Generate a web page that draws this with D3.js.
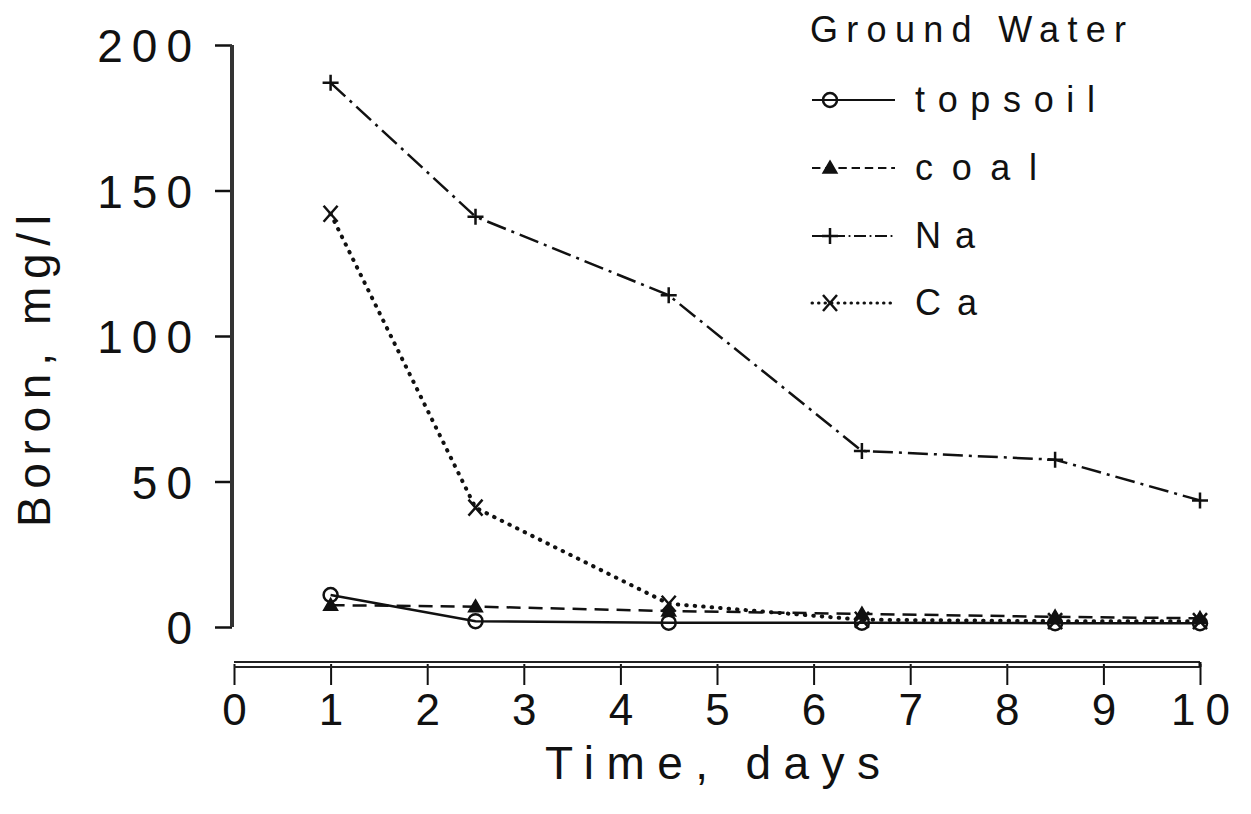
<!DOCTYPE html>
<html lang="en">
<head>
<meta charset="utf-8">
<title>Boron in ground water</title>
<script src="https://cdn.jsdelivr.net/npm/d3@7"></script>
<style>
  body { margin: 0; background: #fff; }
  text { font-family: "Liberation Sans", "DejaVu Sans", sans-serif; fill: #111; }
</style>
</head>
<body>
<div id="chart"></div>
<script>
  // data
  var days = [1, 2.5, 4.5, 6.5, 8.5, 10];
  var topsoil = [11, 2, 1.5, 1.5, 1.3, 1.3];
  var coal = [7.5, 7, 5.5, 4.5, 3.5, 3];
  var na = [187, 141, 114, 60.5, 57.5, 43.5];
  var ca = [142, 41, 8, 2.5, 2, 2];
  var xTicks = [0, 1, 2, 3, 4, 5, 6, 7, 8, 9, 10];
  var yTicks = [0, 50, 100, 150, 200];

  var series = [
    { name: "topsoil", values: topsoil, dash: null, marker: "circle" },
    { name: "coal", values: coal, dash: "14,8", marker: "triangle" },
    { name: "Na", values: na, dash: "20,6,3,6", marker: "plus" },
    { name: "Ca", values: ca, dash: "0.5,8", marker: "cross" }
  ];

  var width = 1251, height = 814;

  var x = d3.scaleLinear().domain([0, 10]).range([234, 1200]);
  var y = d3.scaleLinear().domain([0, 200]).range([627, 45]);

  var svg = d3.select("#chart").append("svg")
    .attr("width", width)
    .attr("height", height);

  // y axis
  var yAxis = svg.append("g")
    .attr("transform", "translate(232,0)")
    .call(d3.axisLeft(y).tickValues(yTicks).tickSize(17).tickPadding(14));
  yAxis.select(".domain").remove();
  yAxis.selectAll(".tick line").attr("stroke", "#111").attr("stroke-width", 2.5);
  yAxis.selectAll(".tick text")
    .attr("font-size", 46)
    .attr("letter-spacing", 9)
    .attr("dy", "0.36em");
  svg.append("line")
    .attr("x1", 232).attr("x2", 232)
    .attr("y1", y(200)).attr("y2", y(0))
    .attr("stroke", "#333").attr("stroke-width", 4);

  // x axis, drawn as a double rule with ticks hanging below
  var xAxis = svg.append("g")
    .attr("transform", "translate(0,664)")
    .call(d3.axisBottom(x).tickValues(xTicks).tickSize(21).tickPadding(8));
  xAxis.select(".domain").remove();
  xAxis.selectAll(".tick line").attr("stroke", "#111").attr("stroke-width", 2);
  xAxis.selectAll(".tick text")
    .attr("font-size", 44)
    .attr("letter-spacing", 10)
    .attr("dx", 5)
    .attr("dy", "0.72em");
  [662, 667].forEach(function (yy) {
    svg.append("line")
      .attr("x1", x(0)).attr("x2", x(10))
      .attr("y1", yy).attr("y2", yy)
      .attr("stroke", "#222").attr("stroke-width", 2);
  });
  svg.append("line")
    .attr("x1", x(10)).attr("x2", x(10))
    .attr("y1", 662).attr("y2", 667)
    .attr("stroke", "#111").attr("stroke-width", 3);

  // axis titles
  svg.append("text")
    .attr("x", 545).attr("y", 779)
    .attr("font-size", 46)
    .attr("textLength", 335)
    .attr("lengthAdjust", "spacing")
    .text("Time, days");
  svg.append("text")
    .attr("transform", "translate(50,527) rotate(-90)")
    .attr("font-size", 46)
    .attr("textLength", 312)
    .attr("lengthAdjust", "spacing")
    .text("Boron, mg/l");

  // markers
  function drawMarker(g, type, cx, cy) {
    var s = 8;
    if (type === "circle") {
      g.append("circle").attr("cx", cx).attr("cy", cy).attr("r", 7)
        .attr("fill", "none").attr("stroke", "#111").attr("stroke-width", 2.5);
    } else if (type === "triangle") {
      g.append("path")
        .attr("d", "M" + cx + "," + (cy - 7) + "L" + (cx + 7) + "," + (cy + 5) + "L" + (cx - 7) + "," + (cy + 5) + "Z")
        .attr("fill", "#111").attr("stroke", "#111").attr("stroke-width", 1.5);
    } else if (type === "plus") {
      g.append("path")
        .attr("d", "M" + (cx - s) + "," + cy + "H" + (cx + s) + "M" + cx + "," + (cy - s) + "V" + (cy + s))
        .attr("stroke", "#111").attr("stroke-width", 2.5);
    } else {
      g.append("path")
        .attr("d", "M" + (cx - 7) + "," + (cy - 8) + "L" + (cx + 7) + "," + (cy + 8) + "M" + (cx + 7) + "," + (cy - 8) + "L" + (cx - 7) + "," + (cy + 8))
        .attr("stroke", "#111").attr("stroke-width", 2.5);
    }
  }

  var line = d3.line()
    .x(function (d, i) { return x(days[i]); })
    .y(function (d) { return y(d); });

  series.forEach(function (s) {
    var g = svg.append("g");
    g.append("path")
      .datum(s.values)
      .attr("d", line)
      .attr("fill", "none")
      .attr("stroke", "#111")
      .attr("stroke-width", s.name === "Ca" ? 4 : 2.5)
      .attr("stroke-linecap", s.name === "Ca" ? "round" : "butt")
      .attr("stroke-dasharray", s.dash);
    s.values.forEach(function (v, i) {
      drawMarker(g, s.marker, x(days[i]), y(v));
    });
  });

  // legend
  var legend = svg.append("g");
  legend.append("text")
    .attr("x", 810).attr("y", 42)
    .attr("font-size", 36)
    .attr("textLength", 316)
    .attr("lengthAdjust", "spacing")
    .text("Ground Water");
  var rowY = [100, 168, 236, 303];
  var labelLen = [180, 122, 60, 62];
  series.forEach(function (s, i) {
    var ly = rowY[i];
    var row = legend.append("g");
    row.append("line")
      .attr("x1", 812).attr("x2", 895)
      .attr("y1", ly).attr("y2", ly)
      .attr("stroke", "#111")
      .attr("stroke-width", s.name === "Ca" ? 3 : 2)
      .attr("stroke-linecap", s.name === "Ca" ? "round" : "butt")
      .attr("stroke-dasharray", s.name === "Ca" ? "0.5,6" : s.dash ? s.dash.split(",").map(function (d) { return d * 0.6; }).join(",") : null);
    drawMarker(row, s.marker, 830, ly);
    row.append("text")
      .attr("x", 915).attr("y", ly + 12)
      .attr("font-size", 36)
      .attr("textLength", labelLen[i])
      .attr("lengthAdjust", "spacing")
      .text(s.name);
  });
</script>
</body>
</html>
